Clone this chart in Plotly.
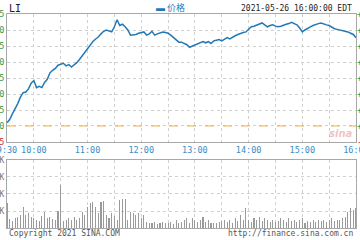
import plotly.graph_objects as go

symbol = "LI"
date_label = "2021-05-26 16:00:00 EDT"
legend_label = "价格"
prev_close = 19.50
price_ticks = [19.25, 19.50, 19.75, 20.00, 20.25, 20.50, 20.75, 21.00, 21.25]
minutes = list(range(0, 391, 3))
prices = [
    19.55, 19.60, 19.69, 19.76, 19.85, 19.95, 20.02, 20.03, 20.08, 20.17,
    20.21, 20.10, 20.12, 20.10, 20.18, 20.23, 20.33, 20.37, 20.40, 20.45,
    20.47, 20.48, 20.44, 20.46, 20.42, 20.45, 20.49, 20.54, 20.60, 20.66,
    20.72, 20.78, 20.82, 20.86, 20.89, 20.94, 20.98, 21.00, 20.99, 20.97,
    21.05, 21.16, 21.07, 21.09, 21.05, 21.00, 20.92, 20.92, 20.93, 20.95,
    20.96, 20.97, 20.92, 20.94, 20.98, 20.92, 20.94, 20.95, 20.97, 20.96,
    20.95, 20.92, 20.88, 20.84, 20.81, 20.81, 20.79, 20.77, 20.73, 20.75,
    20.77, 20.79, 20.81, 20.82, 20.80, 20.82, 20.79, 20.83, 20.84, 20.85,
    20.83, 20.86, 20.88, 20.86, 20.89, 20.91, 20.93, 20.95, 20.96, 20.97,
    21.01, 21.05, 21.06, 21.08, 21.09, 21.11, 21.08, 21.05, 21.07, 21.08,
    21.06, 21.05, 21.06, 21.08, 21.09, 21.10, 21.12, 21.10, 21.08, 21.03,
    20.97, 21.00, 21.03, 21.05, 21.07, 21.09, 21.10, 21.11, 21.09, 21.08,
    21.07, 21.04, 21.02, 21.01, 21.00, 21.00, 20.99, 20.97, 20.95, 20.93, 20.88,
]
volumes_k = [
    150, 53, 40, 57, 67, 76, 125, 75, 86, 67,
    57, 49, 41, 70, 96, 57, 67, 51, 47, 98,
    253, 41, 47, 57, 47, 67, 50, 57, 96, 76,
    125, 145, 155, 125, 86, 155, 161, 76, 57, 86,
    70, 50, 165, 172, 170, 50, 96, 86, 76, 86,
    57, 76, 38, 32, 29, 38, 25, 29, 38, 32,
    29, 38, 25, 47, 32, 38, 45, 57, 32, 60,
    45, 38, 50, 66, 38, 45, 30, 32, 28, 35,
    40, 45, 38, 50, 32, 60, 40, 76, 45, 120,
    50, 38, 60, 45, 66, 40, 57, 50, 38, 45,
    35, 40, 57, 45, 38, 60, 40, 50, 38, 45,
    57, 32, 40, 38, 45, 35, 50, 40, 45, 38,
    45, 57, 40, 50, 45, 57, 66, 96, 115, 105, 120,
]
time_tick_vals = list(range(0, 391, 30))
time_tick_text = ["9:30", "10:00", "", "11:00", "", "12:00", "", "13:00", "",
                  "14:00", "", "15:00", "", "16:00"]
volume_tick_vals = [100, 200, 300, 400]
volume_tick_text = ["100K", "200K", "300K", "400K"]

assert len(prices) == len(minutes) == len(volumes_k)

UP = "#3c9a3c"
DOWN = "#d03030"
LINE = "#2479b5"
GRID = "#d0d0d0"
FRAME = "#a8a8a8"
MONO = "DejaVu Sans Mono"

left_text = ['<span style="color:%s">%.2f</span>' % (UP if p >= prev_close else DOWN, p)
             for p in price_ticks]
right_text = ['<span style="color:%s">%+.2f%%</span>' % (UP if p >= prev_close else DOWN,
              (p - prev_close) / prev_close * 100) for p in price_ticks]

fig = go.Figure()
fig.add_trace(go.Scatter(x=minutes, y=prices, mode="lines",
                         line=dict(color=LINE, width=1.5), xaxis="x", yaxis="y",
                         showlegend=False, hoverinfo="skip"))
fig.add_trace(go.Scatter(x=minutes, y=prices, mode="lines", opacity=0,
                         line=dict(width=0), xaxis="x", yaxis="y3",
                         showlegend=False, hoverinfo="skip"))
fig.add_trace(go.Bar(x=minutes, y=volumes_k, width=1.2, marker=dict(color="#9a9a9a", line_width=0),
                     xaxis="x2", yaxis="y2", showlegend=False, hoverinfo="skip"))

fig.add_shape(type="line", xref="x domain", x0=0, x1=1, yref="y", y0=prev_close, y1=prev_close,
              line=dict(color="#f0b050", width=1, dash="dash"))

axis_common = dict(showline=True, mirror=True, linecolor=FRAME, linewidth=1,
                   showgrid=True, gridcolor=GRID, griddash="dot", gridwidth=1,
                   zeroline=False, ticks="", fixedrange=True, automargin=False,
                   ticklabeloverflow="allow")
p_lo, p_hi = price_ticks[0], price_ticks[-1]

fig.update_layout(
    template="none",
    width=360, height=240,
    margin=dict(l=7, r=4, t=14, b=12, autoexpand=False),
    paper_bgcolor="white", plot_bgcolor="white",
    bargap=0,
    xaxis=dict(domain=[0, 1], range=[0, 390], anchor="y", tickmode="array",
               tickvals=time_tick_vals, ticktext=time_tick_text, tickangle=0,
               tickfont=dict(family=MONO, size=8.5, color="#3a8cc4"), **axis_common),
    yaxis=dict(domain=[0.4019, 1], range=[p_lo, p_hi], anchor="x", tickmode="array",
               tickvals=price_ticks, ticktext=left_text, ticklabelstandoff=0,
               tickfont=dict(family=MONO, size=8.5), **axis_common),
    yaxis3=dict(overlaying="y", side="right", range=[p_lo, p_hi], anchor="x",
                tickmode="array", tickvals=price_ticks, ticktext=right_text,
                showgrid=False, zeroline=False, ticks="", fixedrange=True, automargin=False,
                ticklabeloverflow="allow",
                showline=False, tickfont=dict(family=MONO, size=8.5)),
    xaxis2=dict(domain=[0, 1], range=[0, 390], anchor="y2", tickmode="array",
                tickvals=time_tick_vals, showticklabels=False, **axis_common),
    yaxis2=dict(domain=[0, 0.3178], range=[0, 400], anchor="x2", tickmode="array",
                tickvals=volume_tick_vals, ticktext=volume_tick_text, ticklabelstandoff=0,
                tickfont=dict(family=MONO, size=8, color="#777777"), **axis_common),
)

fig.add_annotation(text=symbol, xref="paper", yref="paper", x=0, y=1.028,
                   xanchor="left", yanchor="middle", showarrow=False,
                   font=dict(family=MONO, size=10, color="#222222"))
fig.add_annotation(text="▬ " + legend_label, xref="paper", yref="paper", x=0.422, y=1.03,
                   xanchor="left", yanchor="middle", showarrow=False,
                   font=dict(family="Noto Sans CJK SC", size=9, color=LINE))
fig.add_annotation(text=date_label, xref="paper", yref="paper", x=0.995, y=1.028,
                   xanchor="right", yanchor="middle", showarrow=False,
                   font=dict(family=MONO, size=8, color="#222222"))
fig.add_annotation(text="Copyright 2021 SINA.COM", xref="paper", yref="paper", x=0, y=-0.025,
                   xanchor="left", yanchor="middle", showarrow=False,
                   font=dict(family=MONO, size=8, color="#555555"))
fig.add_annotation(text="http://finance.sina.com.cn", xref="paper", yref="paper", x=0.997, y=-0.025,
                   xanchor="right", yanchor="middle", showarrow=False,
                   font=dict(family=MONO, size=8, color="#555555"))
fig.add_annotation(text="<b><i>sina</i></b>", xref="paper", yref="paper", x=0.955, y=0.44,
                   xanchor="center", yanchor="middle", showarrow=False,
                   font=dict(family="DejaVu Sans", size=10, color="rgba(220,120,120,0.45)"))

fig.write_html("out.html", config={"displayModeBar": False, "staticPlot": True})
